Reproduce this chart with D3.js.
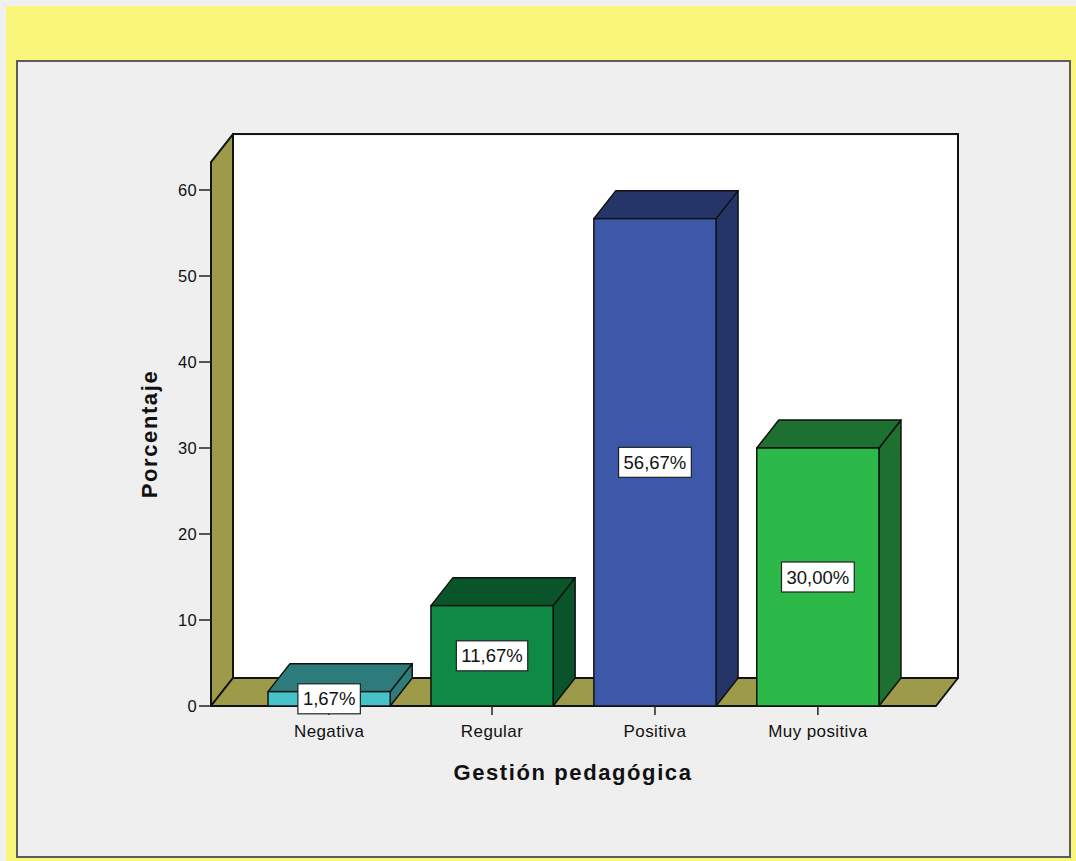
<!DOCTYPE html>
<html>
<head>
<meta charset="utf-8">
<script src="https://cdn.jsdelivr.net/npm/d3@7"></script>
<style>
  html, body { margin: 0; padding: 0; background: #f0f0f0; }
  svg { display: block; }
  text { font-family: "Liberation Sans", Arial, sans-serif; fill: #111; }
</style>
</head>
<body>
<svg id="chart" width="1076" height="861"></svg>
<script>
// ---- data ----
const categories = ["Negativa", "Regular", "Positiva", "Muy positiva"];
const percentages = [1.67, 11.67, 56.67, 30.00];
const valueLabels = ["1,67%", "11,67%", "56,67%", "30,00%"];
const yTicks = [0, 10, 20, 30, 40, 50, 60];
const frontColors = ["#46c3c8", "#0f8a45", "#3d58a9", "#2db84a"];
const darkColors  = ["#2e7b7c", "#0a542a", "#253567", "#1d702f"];
const xTitle = "Gestión pedagógica";
const yTitle = "Porcentaje";

// ---- layout ----
const svg = d3.select("#chart");
const W = 1076, H = 861;
const depthX = 22, depthY = 28;
const left = 211, right = 936, bottom = 706;

// background: yellow frame and gray panel
svg.append("rect").attr("x", 6).attr("y", 6).attr("width", W - 6).attr("height", H - 6).attr("fill", "#f9f679");
svg.append("rect").attr("x", 17).attr("y", 61).attr("width", 1053).attr("height", 796)
  .attr("fill", "#efefef").attr("stroke", "#5c5c5c").attr("stroke-width", 2);

const y = d3.scaleLinear().domain([0, 60]).range([bottom, 190]);
const yMax = 63.25;
const x = d3.scaleBand().domain(categories).range([left, right]).paddingInner(0.25).paddingOuter(0.35);

const wallTop = y(yMax);
const olive = "#9d9b4a";
const stroke = "#111";

// back wall
svg.append("rect")
  .attr("x", left + depthX).attr("y", wallTop - depthY)
  .attr("width", right - left).attr("height", bottom - wallTop)
  .attr("fill", "#ffffff").attr("stroke", stroke).attr("stroke-width", 2);

// left wall
svg.append("polygon")
  .attr("points", [[left, bottom], [left, wallTop], [left + depthX, wallTop - depthY], [left + depthX, bottom - depthY]].join(" "))
  .attr("fill", olive).attr("stroke", stroke).attr("stroke-width", 2).attr("stroke-linejoin", "round");

// floor
svg.append("polygon")
  .attr("points", [[left, bottom], [left + depthX, bottom - depthY], [right + depthX, bottom - depthY], [right, bottom]].join(" "))
  .attr("fill", olive).attr("stroke", stroke).attr("stroke-width", 2).attr("stroke-linejoin", "round");

// y axis ticks
const yAxisG = svg.append("g");
yTicks.forEach(t => {
  yAxisG.append("line").attr("x1", left - 12).attr("x2", left).attr("y1", y(t)).attr("y2", y(t))
    .attr("stroke", "#222").attr("stroke-width", 1.5);
  yAxisG.append("text").attr("x", left - 14).attr("y", y(t)).attr("dy", "0.35em")
    .attr("text-anchor", "end").attr("font-size", 16.5).attr("letter-spacing", "0.3px").text(t);
});

// bars
const bars = svg.append("g");
categories.forEach((c, i) => {
  const x0 = x(c), x1 = x(c) + x.bandwidth();
  const yt = y(percentages[i]);
  const g = bars.append("g");
  g.append("polygon")
    .attr("points", [[x1, bottom], [x1, yt], [x1 + depthX, yt - depthY], [x1 + depthX, bottom - depthY]].join(" "))
    .attr("fill", darkColors[i]).attr("stroke", stroke).attr("stroke-width", 1.5).attr("stroke-linejoin", "round");
  g.append("polygon")
    .attr("points", [[x0, yt], [x0 + depthX, yt - depthY], [x1 + depthX, yt - depthY], [x1, yt]].join(" "))
    .attr("fill", darkColors[i]).attr("stroke", stroke).attr("stroke-width", 1.5).attr("stroke-linejoin", "round");
  g.append("rect").attr("x", x0).attr("y", yt).attr("width", x1 - x0).attr("height", bottom - yt)
    .attr("fill", frontColors[i]).attr("stroke", stroke).attr("stroke-width", 1.5);
});

// x axis ticks & labels
categories.forEach((c, i) => {
  const cx = x(c) + x.bandwidth() / 2;
  svg.append("line").attr("x1", cx).attr("x2", cx).attr("y1", bottom).attr("y2", bottom + 9)
    .attr("stroke", "#222").attr("stroke-width", 1.5);
  svg.append("text").attr("x", cx).attr("y", 737).attr("text-anchor", "middle")
    .attr("font-size", 17).attr("letter-spacing", "0.4px").text(c);
});

// value labels
categories.forEach((c, i) => {
  const cx = x(c) + x.bandwidth() / 2;
  const cy = (y(percentages[i]) + bottom) / 2;
  const t = svg.append("text").attr("x", cx).attr("y", cy).attr("dy", "0.36em")
    .attr("text-anchor", "middle").attr("font-size", 18.5).text(valueLabels[i]);
  const bb = t.node().getBBox();
  svg.insert("rect", () => t.node())
    .attr("x", cx - bb.width / 2 - 5).attr("y", cy - 15)
    .attr("width", bb.width + 10).attr("height", 30)
    .attr("fill", "#fff").attr("stroke", "#222").attr("stroke-width", 1.2);
});

// titles
svg.append("text").attr("x", 573).attr("y", 780).attr("text-anchor", "middle")
  .attr("font-size", 22).attr("font-weight", "bold").attr("letter-spacing", "1.6px").text(xTitle);
svg.append("text").attr("transform", "translate(157,434) rotate(-90)").attr("text-anchor", "middle")
  .attr("font-size", 22).attr("font-weight", "bold").attr("letter-spacing", "1.6px").text(yTitle);
</script>
</body>
</html>
